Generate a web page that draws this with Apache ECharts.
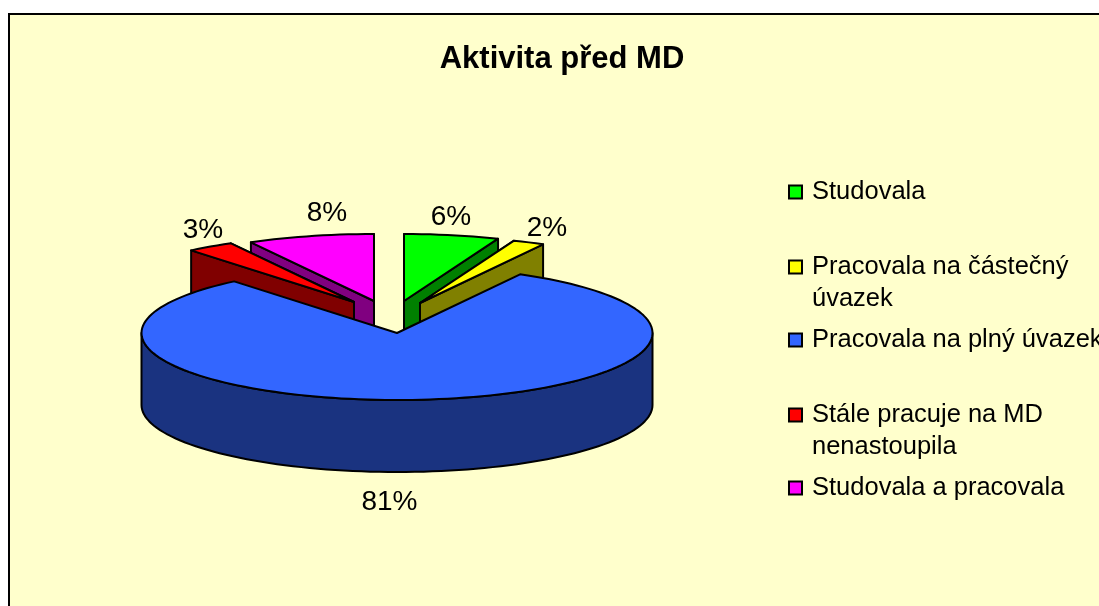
<!DOCTYPE html>
<html>
<head>
<meta charset="utf-8">
<style>html,body{margin:0;padding:0;background:#fff;overflow:hidden}#c{width:1099px;height:606px}</style>
<script src="https://cdn.jsdelivr.net/npm/echarts@6/dist/echarts.min.js"></script>
</head>
<body>
<div id="c"></div>
<script>
// Data
const titleText = 'Aktivita před MD';
const categories = ['Studovala', 'Pracovala na částečný úvazek', 'Pracovala na plný úvazek', 'Stále pracuje na MD nenastoupila', 'Studovala a pracovala'];
const legendLabels = ['Studovala', '\nPracovala na částečný\núvazek', 'Pracovala na plný úvazek', '\nStále pracuje na MD\nnenastoupila', 'Studovala a pracovala'];
const percents = [6, 2, 81, 3, 8];

// Styles and layout
const topColors = ['#00FF00', '#FFFF00', '#3366FF', '#FF0000', '#FF00FF'];
const wallColors = ['#008000', '#808000', '#1A3380', '#800000', '#800080'];
const sliceCenters = [[404, 301], [420, 303], [397, 333], [354, 302], [374, 301]];
const labelCenters = [[451, 217], [547, 228], [389.5, 502], [203, 230], [327, 213]];
const drawOrder = [3, 4, 5, 2, 1];
const legendCentersY = [192, 267, 340, 415, 488];
const RX = 255.5, RY = 67, DEPTH = 72, FONT = 'Liberation Sans';
const STROKE = '#000', LW = 2;

const startDeg = [];
percents.reduce((acc, v, i) => { startDeg[i] = acc; return acc + v * 3.6; }, 0);

function pt(c, deg, dy) {
  const t = deg * Math.PI / 180;
  return [c[0] + RX * Math.sin(t), c[1] - RY * Math.cos(t) + (dy || 0)];
}
function arc(c, a, b, dy) {
  const n = Math.max(2, Math.ceil(Math.abs(b - a) / 2)), out = [];
  for (let i = 0; i <= n; i++) out.push(pt(c, a + (b - a) * i / n, dy));
  return out;
}
function poly(points, fill) {
  return { type: 'polygon', shape: { points }, style: { fill, stroke: STROKE, lineWidth: LW, lineJoin: 'round' } };
}
function renderer(i) {
  return function (params, api) {
    const a = startDeg[i], b = a + api.value(0) * 3.6, c = sliceCenters[i];
    const children = [];
    const isMain = api.value(0) > 50;
    if (!isMain) {
      const edges = [a, b].map(d => pt(c, d)).sort((p, q) => p[1] - q[1]);
      edges.forEach(e => children.push(poly(
        [c, e, [e[0], e[1] + DEPTH], [c[0], c[1] + DEPTH]], wallColors[i])));
    } else {
      const from = Math.max(a, 90), to = Math.min(b, 270);
      children.push(poly(arc(c, from, to).concat(arc(c, to, from, DEPTH)), wallColors[i]));
    }
    children.push(poly([c].concat(arc(c, a, b)), topColors[i]));
    children.push({
      type: 'text', z2: 10,
      style: { text: api.value(0) + '%', x: labelCenters[i][0], y: labelCenters[i][1],
        fill: '#000', fontSize: 28, fontFamily: FONT, align: 'center', verticalAlign: 'middle' }
    });
    return { type: 'group', children };
  };
}

const chart = echarts.init(document.getElementById('c'), null, { renderer: 'canvas' });
chart.setOption({
  animation: false,
  backgroundColor: '#fff',
  title: {
    text: titleText, left: 557, top: 54, textAlign: 'center', textVerticalAlign: 'middle',
    textStyle: { fontFamily: FONT, fontWeight: 'bold', fontSize: 31, color: '#000' }
  },
  graphic: [{
    type: 'rect', z: 0, shape: { x: 9, y: 14, width: 1200, height: 700 },
    style: { fill: '#FFFFCC', stroke: '#000', lineWidth: 2 }
  }],
  legend: categories.map((name, i) => ({
    data: [name], orient: 'vertical', left: 788, padding: 0,
    top: legendCentersY[i] - (legendLabels[i].indexOf('\n') === 0 ? 48 : 16),
    icon: 'rect', itemWidth: 13, itemHeight: 13, itemGap: 0, selectedMode: false,
    itemStyle: { borderColor: '#000', borderWidth: 2 },
    formatter: () => legendLabels[i],
    textStyle: { fontFamily: FONT, fontSize: 25.5, lineHeight: 32, color: '#000', padding: [0, 0, 0, 5] }
  })),
  series: categories.map((name, i) => ({
    type: 'custom', name, coordinateSystem: 'none', z: drawOrder[i] + 1,
    itemStyle: { color: topColors[i] }, silent: true,
    renderItem: renderer(i),
    data: [{ name, value: [percents[i]] }]
  }))
});
</script>
</body>
</html>
